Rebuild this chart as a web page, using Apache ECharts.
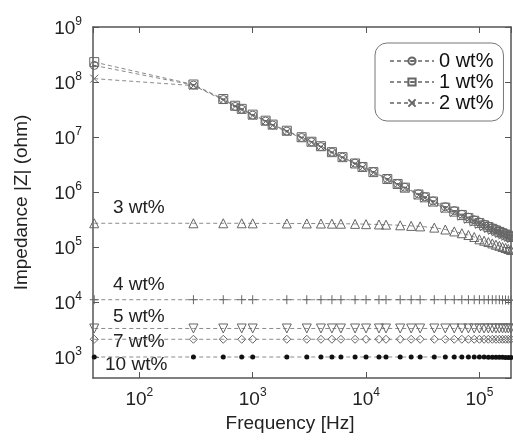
<!DOCTYPE html>
<html><head><meta charset="utf-8">
<script src="https://cdn.jsdelivr.net/npm/echarts@6/dist/echarts.min.js"></script>
<style>html,body{margin:0;padding:0;background:#fff}#c{width:513px;height:441px}</style>
</head><body><div id="c"></div>
<script>
// Frequencies (Hz)
const freqHigh = [40, 300, 550, 700, 800, 1000, 1300, 1500, 2000, 2700, 3300, 4000, 5000, 6200, 8000, 9300, 11600, 15400, 19000, 22000, 29000, 33000, 39000, 50000, 60000, 70000, 80000, 90000, 100000, 110000, 120000, 130000, 140000, 150000, 160000, 170000, 180000, 190000];
const freqLow = [40, 300, 550, 800, 1000, 2000, 3000, 4000, 5000, 6000, 8000, 10000, 13000, 15000, 20000, 25000, 30000, 40000, 50000, 60000, 70000, 80000, 90000, 100000, 110000, 120000, 130000, 140000, 150000, 160000, 170000, 180000, 190000];

// Impedance |Z| (ohm)
const z0 = [2.0e8, 8.8e7, 4.8e7, 3.6e7, 3.2e7, 2.5e7, 1.95e7, 1.65e7, 1.28e7, 9.8e6, 8.2e6, 6.7e6, 5.3e6, 4.3e6, 3.35e6, 2.9e6, 2.35e6, 1.75e6, 1.42e6, 1.22e6, 9.3e5, 8.2e5, 6.9e5, 5.4e5, 4.6e5, 3.95e5, 3.5e5, 3.12e5, 2.85e5, 2.6e5, 2.42e5, 2.25e5, 2.1e5, 1.98e5, 1.87e5, 1.77e5, 1.68e5, 1.6e5];
const z1 = [2.3e8, 9.0e7, 4.9e7, 3.7e7, 3.25e7, 2.55e7, 1.98e7, 1.68e7, 1.3e7, 9.9e6, 8.2e6, 6.8e6, 5.3e6, 4.3e6, 3.3e6, 2.85e6, 2.3e6, 1.72e6, 1.4e6, 1.2e6, 9.0e5, 8.0e5, 6.7e5, 5.2e5, 4.4e5, 3.8e5, 3.35e5, 3.0e5, 2.72e5, 2.48e5, 2.3e5, 2.14e5, 2.0e5, 1.88e5, 1.77e5, 1.68e5, 1.6e5, 1.52e5];
const z2 = [1.15e8, 8.6e7, 4.7e7, 3.6e7, 3.1e7, 2.45e7, 1.92e7, 1.62e7, 1.25e7, 9.6e6, 8.0e6, 6.6e6, 5.2e6, 4.2e6, 3.25e6, 2.8e6, 2.25e6, 1.66e6, 1.36e6, 1.16e6, 8.7e5, 7.7e5, 6.4e5, 4.95e5, 4.2e5, 3.6e5, 3.15e5, 2.8e5, 2.55e5, 2.32e5, 2.13e5, 1.98e5, 1.85e5, 1.73e5, 1.63e5, 1.54e5, 1.46e5, 1.38e5];
const z3 = [2.7e5, 2.7e5, 2.7e5, 2.7e5, 2.69e5, 2.68e5, 2.68e5, 2.67e5, 2.66e5, 2.65e5, 2.63e5, 2.6e5, 2.57e5, 2.55e5, 2.48e5, 2.42e5, 2.37e5, 2.25e5, 2.08e5, 1.92e5, 1.78e5, 1.65e5, 1.52e5, 1.38e5, 1.3e5, 1.23e5, 1.16e5, 1.1e5, 1.05e5, 1.0e5, 9.6e4, 9.2e4, 8.8e4];
const z4 = [1.1e4, 1.1e4, 1.1e4, 1.1e4, 1.1e4, 1.1e4, 1.1e4, 1.1e4, 1.1e4, 1.1e4, 1.1e4, 1.1e4, 1.1e4, 1.1e4, 1.1e4, 1.1e4, 1.1e4, 1.1e4, 1.1e4, 1.1e4, 1.1e4, 1.1e4, 1.1e4, 1.1e4, 1.1e4, 1.1e4, 1.1e4, 1.1e4, 1.1e4, 1.09e4, 1.09e4, 1.08e4, 1.08e4];
const z5 = [3.3e3, 3.3e3, 3.3e3, 3.3e3, 3.3e3, 3.3e3, 3.3e3, 3.3e3, 3.3e3, 3.3e3, 3.3e3, 3.3e3, 3.3e3, 3.3e3, 3.3e3, 3.3e3, 3.3e3, 3.3e3, 3.3e3, 3.3e3, 3.3e3, 3.3e3, 3.3e3, 3.3e3, 3.3e3, 3.3e3, 3.3e3, 3.3e3, 3.3e3, 3.3e3, 3.3e3, 3.3e3, 3.3e3];
const z7 = [2.1e3, 2.1e3, 2.1e3, 2.1e3, 2.1e3, 2.1e3, 2.1e3, 2.1e3, 2.1e3, 2.1e3, 2.1e3, 2.1e3, 2.1e3, 2.1e3, 2.1e3, 2.1e3, 2.1e3, 2.1e3, 2.1e3, 2.1e3, 2.1e3, 2.1e3, 2.1e3, 2.1e3, 2.1e3, 2.1e3, 2.1e3, 2.1e3, 2.1e3, 2.1e3, 2.1e3, 2.1e3, 2.1e3];
const z10 = [1.0e3, 1.0e3, 1.0e3, 1.0e3, 1.0e3, 1.0e3, 1.0e3, 1.0e3, 1.0e3, 1.0e3, 1.0e3, 1.0e3, 1.0e3, 1.0e3, 1.0e3, 1.0e3, 1.0e3, 1.0e3, 1.0e3, 1.0e3, 1.0e3, 1.0e3, 1.0e3, 1.0e3, 1.0e3, 0.99e3, 0.99e3, 0.99e3, 0.99e3, 0.99e3, 0.98e3, 0.98e3, 0.98e3];

const legendNames = ['0 wt%', '1 wt%', '2 wt%'];
const sideLabels = ['3 wt%', '4 wt%', '5 wt%', '7 wt%', '10 wt%'];
const xLimits = [39, 190000];
const yLimits = [415, 1e9];

const FONT = '"Liberation Sans", Arial, sans-serif';
const SYM = {
  circ: 'path://M10,5A5,5,0,1,1,0,5A5,5,0,1,1,10,5ZM2.5,5L7.5,5',
  sq: 'path://M0,0L10,0L10,10L0,10ZM2.5,5L7.5,5',
  cross: 'path://M0,0L10,10M10,0L0,10',
  plus: 'path://M5,0L5,10M0,5L10,5',
  tri: 'path://M5,0L10,9L0,9Z',
  itri: 'path://M0,0L10,0L5,9Z',
  dia: 'path://M5,0L10,5L5,10L0,5Z'
};
function pairs(fs, zs) { return fs.map((f, i) => [f, zs[i]]); }
function mk(name, fs, zs, sym, size, filled) {
  return {
    type: 'line', name: name, data: pairs(fs, zs), symbol: sym, symbolSize: size,
    showAllSymbol: true, silent: true, animation: false,
    lineStyle: { type: [4, 3], width: 1, color: '#8a8a8a' },
    itemStyle: filled ? { color: '#111', borderWidth: 0 } : { color: 'rgba(255,255,255,0)', borderColor: '#666', borderWidth: 1 },
    emphasis: { disabled: true }
  };
}
function fmt(v) {
  const e = Math.log10(v), r = Math.round(e);
  if (Math.abs(e - r) > 1e-6) return '';
  return '{b|10}{s|' + r + '}';
}
const rich = {
  b: { fontSize: 19, fontFamily: FONT, color: '#222', lineHeight: 22, verticalAlign: 'bottom' },
  s: { fontSize: 12, fontFamily: FONT, color: '#222', lineHeight: 12, verticalAlign: 'top' }
};
const axisLine = { show: true, onZero: false, lineStyle: { color: '#555', width: 1.5 } };
const tick = { show: true, inside: true, length: 6, lineStyle: { color: '#555', width: 1 } };

const chart = echarts.init(document.getElementById('c'), null, { renderer: 'canvas' });
chart.setOption({
  backgroundColor: '#fff',
  animation: false,
  grid: { left: 93, right: 2, top: 27, bottom: 63, containLabel: false },
  xAxis: [
    { type: 'log', logBase: 10, min: xLimits[0], max: xLimits[1], position: 'bottom',
      axisLine: axisLine, axisTick: tick, splitLine: { show: false }, minorTick: { show: false },
      axisLabel: { formatter: fmt, rich: rich, margin: 9, showMinLabel: false, showMaxLabel: false },
      name: 'Frequency [Hz]', nameLocation: 'middle', nameGap: 30,
      nameTextStyle: { fontSize: 19, color: '#222', fontFamily: FONT, padding: [0, 24, 0, 0] } },
    { type: 'log', logBase: 10, min: xLimits[0], max: xLimits[1], position: 'top',
      axisLine: axisLine, axisTick: tick, splitLine: { show: false }, axisLabel: { show: false } }
  ],
  yAxis: [
    { type: 'log', logBase: 10, min: yLimits[0], max: yLimits[1], position: 'left',
      axisLine: axisLine, axisTick: tick, splitLine: { show: false }, minorTick: { show: false },
      axisLabel: { formatter: fmt, rich: rich, margin: 11, showMinLabel: false },
      name: 'Impedance |Z| (ohm)', nameLocation: 'middle', nameGap: 62, nameRotate: 90,
      nameTextStyle: { fontSize: 19, color: '#222', fontFamily: FONT } },
    { type: 'log', logBase: 10, min: yLimits[0], max: yLimits[1], position: 'right',
      axisLine: axisLine, axisTick: tick, splitLine: { show: false }, axisLabel: { show: false } }
  ],
  legend: {
    data: legendNames, orient: 'vertical', left: 375, top: 43,
    padding: [8, 10, 8, 14], itemGap: 1, itemWidth: 44, itemHeight: 9,
    borderColor: '#777', borderWidth: 1, borderRadius: 12, backgroundColor: '#fff',
    textStyle: { fontSize: 20, color: '#111', fontFamily: FONT }, selectedMode: false
  },
  series: [
    mk(legendNames[0], freqHigh, z0, SYM.circ, 8),
    mk(legendNames[1], freqHigh, z1, SYM.sq, 9),
    mk(legendNames[2], freqHigh, z2, SYM.cross, 8),
    mk(sideLabels[0], freqLow, z3, SYM.tri, 9),
    mk(sideLabels[1], freqLow, z4, SYM.plus, 9),
    mk(sideLabels[2], freqLow, z5, SYM.itri, 9),
    mk(sideLabels[3], freqLow, z7, SYM.dia, 8),
    mk(sideLabels[4], freqLow, z10, 'circle', 5, true)
  ],
  graphic: [
    { type: 'text', left: 113, top: 198, style: { text: sideLabels[0], font: '19px ' + FONT, fill: '#222' } },
    { type: 'text', left: 113, top: 275, style: { text: sideLabels[1], font: '19px ' + FONT, fill: '#222' } },
    { type: 'text', left: 113, top: 307, style: { text: sideLabels[2], font: '19px ' + FONT, fill: '#222' } },
    { type: 'text', left: 113, top: 332, style: { text: sideLabels[3], font: '19px ' + FONT, fill: '#222' } },
    { type: 'text', left: 105, top: 355, style: { text: sideLabels[4], font: '19px ' + FONT, fill: '#222' } }
  ]
});
</script>
</body></html>
